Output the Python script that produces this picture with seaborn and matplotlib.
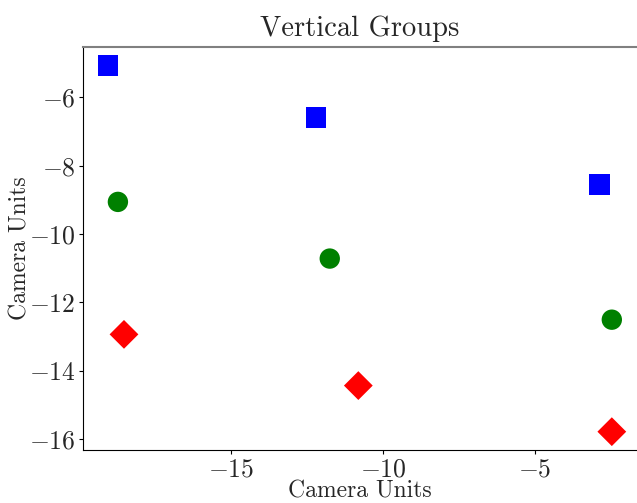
import pandas as pd
import matplotlib
matplotlib.use("Agg")
import matplotlib.pyplot as plt
import seaborn as sns

# values
groups = ["top", "top", "top", "mid", "mid", "mid", "low", "low", "low"]
x_vals = [-19.05, -12.22, -2.88, -18.73, -11.76, -2.48, -18.53, -10.82, -2.48]
y_vals = [-5.06, -6.59, -8.55, -9.06, -10.72, -12.51, -12.94, -14.44, -15.79]

colors = {"top": "blue", "mid": "green", "low": "red"}
markers = {"top": "s", "mid": "o", "low": "D"}

df = pd.DataFrame({"x": x_vals, "y": y_vals, "group": groups})

sns.set_style("ticks")
plt.rcParams["font.family"] = "serif"
plt.rcParams["font.serif"] = ["cmr10"]
plt.rcParams["mathtext.fontset"] = "cm"
plt.rcParams["axes.formatter.use_mathtext"] = True

fig = plt.figure(figsize=(6.37, 5.03), dpi=100)
ax = fig.add_axes([83 / 637, 1 - 450 / 503, 1 - 83 / 637, (450 - 47) / 503])

sns.scatterplot(data=df, x="x", y="y", hue="group", style="group",
                palette=colors, markers=markers, s=215, linewidth=0,
                legend=False, ax=ax)

ax.set_title("Vertical Groups", fontsize=20.5, pad=8)
ax.set_xlabel("Camera Units", fontsize=17, labelpad=-1)
ax.set_ylabel("Camera Units", fontsize=17, labelpad=-2)
ax.tick_params(labelsize=18.5, length=3, width=0.8, color="black", pad=2.5)
ax.set_xticks([-15, -10, -5])
ax.set_yticks([-6, -8, -10, -12, -14, -16])

ax.spines["right"].set_visible(False)
ax.spines["top"].set_color("gray")
ax.spines["top"].set_linewidth(1.5)
ax.spines["left"].set_color("black")
ax.spines["bottom"].set_color("black")

fig.savefig("out.png", dpi=100)
